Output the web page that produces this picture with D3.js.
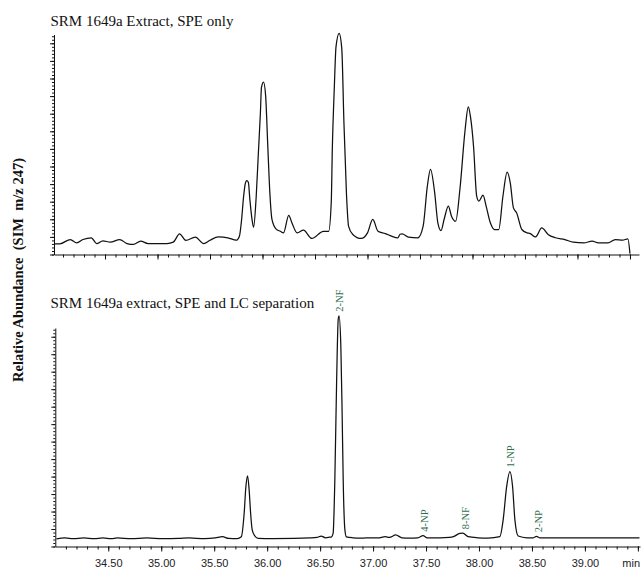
<!DOCTYPE html>
<html>
<head>
<meta charset="utf-8">
<script src="https://cdn.jsdelivr.net/npm/d3@7"></script>
<style>
  html, body { margin: 0; padding: 0; background: #fff; }
  svg { display: block; }
</style>
</head>
<body>
<svg id="chart" width="641" height="571"></svg>
<script>
// ---- Data: SIM m/z 247 chromatograms (time in min, relative signal) ----

// Upper trace: extract after SPE clean-up only
const speOnlyTime = [
  34.02, 34.07, 34.17, 34.23, 34.29, 34.37, 34.42, 34.48, 34.55, 34.64,
  34.71, 34.77, 34.84, 34.91, 35.00, 35.09, 35.15, 35.21, 35.27, 35.36,
  35.44, 35.50, 35.58, 35.67, 35.75, 35.78, 35.80, 35.82, 35.835, 35.85,
  35.865, 35.88, 35.90, 35.915, 35.94, 35.96, 35.98, 35.99, 36.01, 36.03,
  36.05, 36.07, 36.09, 36.13, 36.17, 36.20, 36.25, 36.28, 36.33, 36.39,
  36.47, 36.58, 36.63, 36.655, 36.665, 36.684, 36.70, 36.73, 36.755, 36.775,
  36.80, 36.82, 36.86, 36.94, 37.00, 37.05, 37.10, 37.17, 37.23, 37.29,
  37.31, 37.33, 37.39, 37.48, 37.53, 37.57, 37.60, 37.64, 37.67, 37.70,
  37.73, 37.77, 37.80, 37.84, 37.88, 37.93, 37.96, 37.98, 38.01, 38.04,
  38.06, 38.10, 38.13, 38.17, 38.21, 38.25, 38.29, 38.33, 38.36, 38.39,
  38.42, 38.47, 38.52, 38.55, 38.60, 38.66, 38.72, 38.79, 38.88, 38.96,
  39.06, 39.14, 39.20, 39.29, 39.36, 39.43, 39.48, 39.50
];
const speOnlySignal = [
  6.1, 6.1, 8.5, 6.6, 8.5, 9.5, 6.2, 7.8, 7.0, 8.5,
  6.2, 5.7, 7.6, 6.2, 6.2, 6.2, 7.0, 11.7, 8.0, 9.9,
  6.2, 8.1, 10.0, 9.5, 8.1, 10.4, 19.3, 33, 40, 42,
  41, 31, 20, 15.5, 33, 57, 80.5, 95, 98, 90,
  62, 35, 19.9, 14.4, 13.2, 12.3, 22.2, 18, 12.3, 13.8,
  9.1, 13.2, 13.2, 30, 60, 95, 118, 125.6, 117, 76,
  34, 16, 11.4, 9.1, 12.3, 19.9, 13.2, 11.9, 10.4, 9.5,
  11.5, 11.7, 9.9, 9.5, 16.1, 38.8, 48.3, 35, 18, 13.6,
  20, 27.5, 21.8, 18.9, 36.9, 71, 83.9, 78.6, 61.5, 33.1,
  30.3, 33.7, 27.5, 18, 14.2, 14.2, 33.1, 46.8, 40.7, 26.5,
  23.7, 14.2, 12.3, 11.9, 10, 15.1, 11.4, 9.5, 8.5, 7,
  6.6, 7.6, 6.6, 6.6, 8.5, 8.1, 8.9, 0.5
];

// Lower trace: extract after SPE and LC fractionation
const lcTime = [
  34.011, 34.091, 34.170, 34.269, 34.368, 34.448, 34.527, 34.586, 34.715, 34.864,
  35.013, 35.162, 35.261, 35.409, 35.509, 35.578, 35.637, 35.717, 35.756, 35.783,
  35.799, 35.815, 35.830, 35.844, 35.859, 35.884, 35.915, 36.054, 36.252, 36.401,
  36.470, 36.510, 36.550, 36.589, 36.609, 36.623, 36.639, 36.656, 36.671, 36.679,
  36.696, 36.708, 36.718, 36.734, 36.748, 36.807, 36.897, 36.966, 37.045, 37.115,
  37.154, 37.214, 37.273, 37.343, 37.422, 37.472, 37.511, 37.630, 37.720, 37.759,
  37.819, 37.848, 37.898, 37.987, 38.086, 38.197, 38.228, 38.261, 38.292, 38.317,
  38.339, 38.370, 38.453, 38.513, 38.543, 38.572, 38.929, 39.227, 39.515
];
const lcSignal = [
  4.3, 4.9, 4.5, 4.9, 4.5, 4.9, 4.5, 4.9, 4.5, 4.9,
  4.5, 4.6, 4.9, 4.5, 4.9, 5.6, 4.6, 4.5, 5.6, 19,
  34, 40.4, 32.4, 19, 9.5, 6, 4.6, 4.5, 4.6, 4.9,
  5.2, 6, 5, 5.3, 5.5, 7.6, 38, 95, 130, 132,
  114, 76, 38, 9.5, 5.5, 5.0, 4.8, 5, 4.9, 5.6,
  5.2, 6.6, 5.0, 4.8, 5, 6.2, 5, 5, 5.2, 5.6,
  7.5, 7.6, 5.6, 5, 4.8, 5.6, 15.2, 34.3, 42.9, 34.3,
  15.2, 6, 5, 5, 5.8, 5, 4.9, 4.9, 4.9
];

// Peak identifications on the lower trace
const peakNames = ["2-NF", "4-NP", "8-NF", "1-NP", "2-NP"];
const peakTimes = [36.68, 37.487, 37.868, 38.292, 38.557];

// Time-axis labels (the last position carries the unit)
const timeTickValues = [34.5, 35.0, 35.5, 36.0, 36.5, 37.0, 37.5, 38.0, 38.5, 39.0, 39.5];
const timeTickLabels = ["34.50", "35.00", "35.50", "36.00", "36.50", "37.00", "37.50", "38.00", "38.50", "39.00", "min"];

const panelTitles = ["SRM 1649a Extract, SPE only", "SRM 1649a extract, SPE and LC separation"];
const yAxisTitle = "Relative Abundance  (SIM  m/z 247)";

// ---- Layout ----
const width = 641;
const svg = d3.select("#chart");
const serif = "'Liberation Serif', 'Times New Roman', serif";
const sans = "'Liberation Sans', Arial, sans-serif";

const panels = [
  {
    title: panelTitles[0], time: speOnlyTime, signal: speOnlySignal,
    x: d3.scaleLinear().domain([34.014, 39.586]).range([54, 639]),
    y0: 254.5, y1: 34.5, titleY: 26, labels: false
  },
  {
    title: panelTitles[1], time: lcTime, signal: lcSignal,
    x: d3.scaleLinear().domain([34.0, 39.52]).range([55.3, 640]),
    y0: 546.5, y1: 328, titleY: 308, labels: true
  }
];

const minorTimes = d3.range(341, 396).map(d => d / 10);
const majorTimes = d3.range(69, 80).map(d => d / 2);

panels.forEach(p => {
  const x = p.x;
  const y = d3.scaleLinear().domain([0, 125]).range([p.y0, p.y1]);
  const g = svg.append("g");

  // panel title
  g.append("text")
    .attr("x", 50.5).attr("y", p.titleY)
    .attr("font-family", serif).attr("font-size", 15)
    .attr("fill", "#111")
    .text(p.title);

  // time axis: minor ticks every 0.1 min, major every 0.5 min
  const xMinor = g.append("g").attr("transform", `translate(0,${p.y0})`)
    .call(d3.axisBottom(x).tickValues(minorTimes.filter(t => t <= x.domain()[1]))
      .tickSize(3).tickSizeOuter(0).tickFormat(""));
  const xMajor = g.append("g").attr("transform", `translate(0,${p.y0})`)
    .call(d3.axisBottom(x).tickValues(p.labels ? timeTickValues : majorTimes).tickSize(5).tickSizeOuter(0)
      .tickPadding(7.5)
      .tickFormat(p.labels ? ((d, i) => timeTickLabels[i]) : ""));
  xMajor.select(".domain").remove();
  xMajor.selectAll("text").attr("font-family", sans).attr("font-size", 11).attr("fill", "#222");
  if (p.labels) {
    // the unit label sits flush against the right edge of the plot
    const last = timeTickValues[timeTickValues.length - 1];
    xMajor.selectAll(".tick text")
      .filter(d => d === last)
      .attr("text-anchor", "end")
      .attr("x", (width - 1.5) - x(last));
  }

  // intensity axis: minor ticks every 2 units, major every 10
  const yMinor = g.append("g").attr("transform", `translate(${x.range()[0]},0)`)
    .call(d3.axisLeft(y).tickValues(d3.range(0, 126, 2)).tickSize(2).tickSizeOuter(0).tickFormat(""));
  const yMajor = g.append("g").attr("transform", `translate(${x.range()[0]},0)`)
    .call(d3.axisLeft(y).tickValues(d3.range(0, 126, 10)).tickSize(4).tickSizeOuter(0).tickFormat(""));
  yMajor.select(".domain").remove();

  [xMinor, xMajor, yMinor, yMajor].forEach(a => {
    a.selectAll("line").attr("stroke", "#111");
    a.selectAll(".domain").attr("stroke", "#111");
  });

  // chromatogram trace
  const pts = p.time.map((t, i) => [t, p.signal[i]]);
  const line = d3.line().x(d => x(d[0])).y(d => y(d[1])).curve(d3.curveMonotoneX);
  g.append("path").datum(pts)
    .attr("d", line)
    .attr("fill", "none")
    .attr("stroke", "#111")
    .attr("stroke-width", 1.25)
    .attr("stroke-linejoin", "round");

  // peak identifications
  if (p.labels) {
    peakNames.forEach((name, i) => {
      const t = peakTimes[i];
      const near = pts.filter(d => Math.abs(d[0] - t) <= 0.035);
      const top = d3.max(near, d => d[1]);
      const px = x(t), py = y(top) - 4;
      g.append("text")
        .attr("transform", `translate(${px},${py}) rotate(-90)`)
        .attr("dy", "0.35em")
        .attr("font-family", serif).attr("font-size", 10.5)
        .attr("fill", "#2e6e4e")
        .text(name);
    });
  }
});

// shared intensity-axis title
svg.append("text")
  .attr("transform", "translate(22.5,270) rotate(-90)")
  .attr("text-anchor", "middle")
  .attr("font-family", serif).attr("font-size", 14.5).attr("font-weight", "bold")
  .attr("fill", "#111")
  .attr("xml:space", "preserve")
  .style("white-space", "pre")
  .text(yAxisTitle);
</script>
</body>
</html>
